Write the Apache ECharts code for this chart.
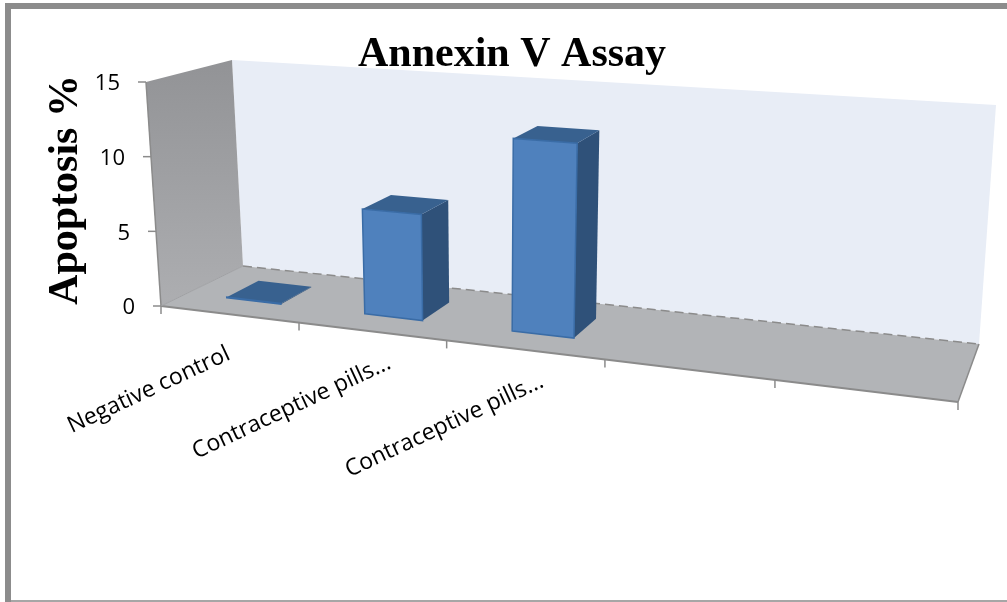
<!DOCTYPE html>
<html>
<head>
<meta charset="utf-8">
<title>Annexin V Assay</title>
<script src="https://cdn.jsdelivr.net/npm/echarts@6/dist/echarts.min.js"></script>
<style>
  html, body { margin: 0; padding: 0; background: #fff; }
  #chart { width: 1007px; height: 602px; }
</style>
</head>
<body>
<div id="chart"></div>
<script>
var categories = ["Negative control", "Contraceptive pills...", "Contraceptive pills...", "", ""];
var barValues = [0.05, 6.9, 12.3];
var yTickValues = [0, 5, 10, 15];
var chartTitle = "Annexin V Assay";
var yName = "Apoptosis %";

// floor corners of the tilted 3d box in pixels, then how far the top of the box
// sits from each of them: front-left, front-right, back-right, back-left
var floorQuad = [[161, 306], [958, 402], [979, 344], [243, 266]];
var heightOffsets = [[-15, -224], [20, -260], [17, -239], [-11, -206]];

// unit square -> quad
function makeHomography(q) {
  var dx1 = q[1][0] - q[2][0], dx2 = q[3][0] - q[2][0], sx = q[0][0] - q[1][0] + q[2][0] - q[3][0];
  var dy1 = q[1][1] - q[2][1], dy2 = q[3][1] - q[2][1], sy = q[0][1] - q[1][1] + q[2][1] - q[3][1];
  var det = dx1 * dy2 - dx2 * dy1;
  var g = (sx * dy2 - dx2 * sy) / det;
  var h = (dx1 * sy - sx * dy1) / det;
  var a = q[1][0] - q[0][0] + g * q[1][0], b = q[3][0] - q[0][0] + h * q[3][0], c = q[0][0];
  var d = q[1][1] - q[0][1] + g * q[1][1], e = q[3][1] - q[0][1] + h * q[3][1], f = q[0][1];
  return function (u, v) {
    var w = g * u + h * v + 1;
    return [(a * u + b * v + c) / w, (d * u + e * v + f) / w];
  };
}
var floorMap = makeHomography(floorQuad);

// u along categories, v along value, d into depth, all 0..1
function project(u, v, d) {
  var p = floorMap(u + 0.036 * u * (1 - u), d);
  var o = heightOffsets;
  var out = [0, 1].map(function (k) {
    var front = o[0][k] + (o[1][k] - o[0][k]) * u;
    var back = o[3][k] + (o[2][k] - o[3][k]) * u;
    return p[k] + (front + (back - front) * d) * v;
  });
  return out;
}

function poly(points, fill, stroke, lineWidth) {
  return {
    type: "polygon",
    shape: { points: points },
    style: { fill: fill, stroke: stroke || null, lineWidth: lineWidth || 0 },
  };
}
function seg(a, b, color, width, dash) {
  return {
    type: "line",
    shape: { x1: a[0], y1: a[1], x2: b[0], y2: b[1] },
    style: { stroke: color, lineWidth: width, lineDash: dash || null },
  };
}

function renderBox(params, api) {
  var lineColor = "#8b8b8b";
  return {
    type: "group",
    children: [
      // back wall
      poly([project(0, 0, 1), project(1, 0, 1), project(1, 1, 1), project(0, 1, 1)], "#e8edf6"),
      // left wall
      poly([project(0, 0, 0), project(0, 0, 1), project(0, 1, 1), project(0, 1, 0)], {
        type: "linear", x: 0, y: 0, x2: 0, y2: 1,
        colorStops: [{ offset: 0, color: "#929396" }, { offset: 1, color: "#adaeb1" }],
      }),
      // floor
      poly([project(0, 0, 0), project(1, 0, 0), project(1, 0, 1), project(0, 0, 1)], "#b2b4b7"),
      seg(project(0, 0, 1), project(1, 0, 1), lineColor, 1.5, [9, 5]),
      seg(project(0, 0, 0), project(0, 1, 0), lineColor, 1.5),
      seg(project(0, 0, 0), project(1, 0, 0), lineColor, 2),
      seg(project(1, 0, 0), project(1, 0, 1), lineColor, 1.5),
      seg(project(0, 0, 0), project(0, 0, 1), "#a0a1a4", 1),
    ],
  };
}

function renderBar(params, api) {
  var cs = params.coordSys;
  var band = api.size([1, 0])[0];
  var pos = api.coord([api.value(0), api.value(1)]);
  var u0 = (pos[0] - band * 0.2 - cs.x) / cs.width;
  var u1 = (pos[0] + band * 0.2 - cs.x) / cs.width;
  var v = (cs.y + cs.height - pos[1]) / cs.height;
  var d0 = 0.3, d1 = 0.7;
  return {
    type: "group",
    children: [
      poly([project(u1, 0, d0), project(u1, 0, d1), project(u1, v, d1), project(u1, v, d0)], "#2f5179"),
      poly([project(u0, v, d0), project(u1, v, d0), project(u1, v, d1), project(u0, v, d1)], "#38618f"),
      poly([project(u0, 0, d0), project(u1, 0, d0), project(u1, v, d0), project(u0, v, d0)], "#4f81bd", "#3a6ca6", 1.5),
    ],
  };
}

function renderYTick(params, api) {
  var cs = params.coordSys;
  var pos = api.coord([0, api.value(0)]);
  var v = (cs.y + cs.height - pos[1]) / cs.height;
  var p = project(0, v, 0);
  return {
    type: "group",
    children: [
      seg([p[0] - 8, p[1]], p, "#8b8b8b", 1.5),
      {
        type: "text",
        x: p[0] - 26,
        y: p[1] + 2,
        style: {
          text: String(api.value(0)),
          align: "right",
          verticalAlign: "middle",
          fontFamily: "Open Sans",
          fontSize: 22,
          fill: "#000",
        },
      },
    ],
  };
}

function renderXTick(params, api) {
  var i = params.dataIndex;
  var n = categories.length;
  var p = project(i / n, 0, 0);
  var children = [seg(p, [p[0], p[1] + 8], "#8b8b8b", 1.5)];
  if (i < n && categories[i]) {
    var c = project((i + 0.5) / n, 0, 0);
    children.push({
      type: "text",
      x: c[0] - 80,
      y: c[1] + 76,
      rotation: 25 * Math.PI / 180,
      style: {
        text: categories[i],
        align: "center",
        verticalAlign: "middle",
        fontFamily: "Open Sans",
        fontSize: 23,
        fill: "#000",
      },
    });
  }
  return { type: "group", children: children };
}

var xTickData = [];
for (var i = 0; i <= categories.length; i++) {
  xTickData.push([i]);
}

var option = {
  animation: false,
  backgroundColor: "#fff",
  title: {
    text: chartTitle,
    left: 353,
    top: 29,
    textStyle: { fontFamily: "Liberation Serif", fontWeight: "bold", fontSize: 42, color: "#000" },
  },
  graphic: [
    { type: "rect", shape: { x: 5, y: 3, width: 1002, height: 6 }, style: { fill: "#8c8c8c" } },
    { type: "rect", shape: { x: 5, y: 3, width: 6, height: 599 }, style: { fill: "#8c8c8c" } },
    { type: "rect", shape: { x: 11, y: 600, width: 996, height: 2 }, style: { fill: "#a6a6a6" } },
  ],
  grid: { left: 161, right: 49, top: 74, bottom: 296 },
  xAxis: { type: "category", data: categories, show: false },
  yAxis: {
    type: "value",
    min: 0,
    max: 15,
    interval: 5,
    name: yName,
    nameLocation: "middle",
    nameGap: 74,
    nameTextStyle: { fontFamily: "Liberation Serif", fontWeight: "bold", fontSize: 42, color: "#000" },
    axisLine: { show: false },
    axisTick: { show: false },
    axisLabel: { show: false },
    splitLine: { show: false },
  },
  series: [
    { type: "custom", renderItem: renderBox, data: [[0, 0]], encode: { x: 0, y: 1 }, clip: false, silent: true, z: 1 },
    { type: "custom", renderItem: renderYTick, data: yTickValues.map(function (t) { return [t]; }), encode: { y: 0 }, clip: false, silent: true, z: 2 },
    { type: "custom", renderItem: renderXTick, data: xTickData, encode: { x: 0 }, clip: false, silent: true, z: 2 },
    {
      type: "custom",
      renderItem: renderBar,
      data: barValues.map(function (v, idx) { return [idx, v]; }),
      encode: { x: 0, y: 1 },
      clip: false,
      z: 3,
    },
  ],
};

var chart = echarts.init(document.getElementById("chart"));
chart.setOption(option);
window.onresize = function () {
  chart.resize();
};
</script>
</body>
</html>
